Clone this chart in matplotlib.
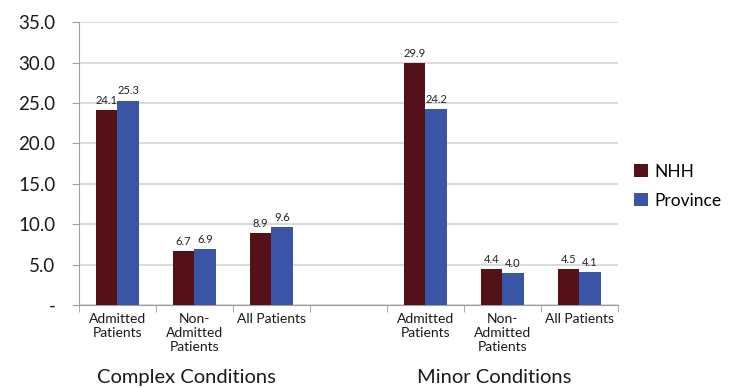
import matplotlib.pyplot as plt
import numpy as np

plt.rcParams['font.family'] = ['Lato', 'DejaVu Sans']

categories = ['Admitted\nPatients', 'Non-\nAdmitted\nPatients', 'All Patients', '',
              'Admitted\nPatients', 'Non-\nAdmitted\nPatients', 'All Patients']
nhh = [24.1, 6.7, 8.9, None, 29.9, 4.4, 4.5]
province = [25.3, 6.9, 9.6, None, 24.2, 4.0, 4.1]
groups = ['Complex Conditions', 'Minor Conditions']
group_pos = [1, 5]
yticks = [0, 5, 10, 15, 20, 25, 30, 35]
ylabels = ['-', '5.0', '10.0', '15.0', '20.0', '25.0', '30.0', '35.0']

c_nhh = '#541117'
c_prov = '#3a55a5'

fig = plt.figure(figsize=(7.38, 3.88), dpi=100)
ax = fig.add_axes([0.107, 0.214, 0.73, 0.729])

w = 0.28
for i, (a, b) in enumerate(zip(nhh, province)):
    if a is None:
        continue
    ax.bar(i - w / 2, a, w, color=c_nhh, label='NHH' if i == 0 else None, zorder=3)
    ax.bar(i + w / 2, b, w, color=c_prov, label='Province' if i == 0 else None, zorder=3)
    ax.text(i - w / 2, a + 0.5, f'{a:.1f}', ha='center', va='bottom', fontsize=8, color='#222222')
    ax.text(i + w / 2, b + 0.5, f'{b:.1f}', ha='center', va='bottom', fontsize=8, color='#222222')

ax.set_xlim(-0.5, 6.5)
ax.set_ylim(0, 35)
ax.set_yticks(yticks)
ax.set_yticklabels(ylabels, fontsize=13.5, color='#1a1a1a')
ax.set_xticks(range(len(categories)))
ax.set_xticklabels(categories, fontsize=10, linespacing=1.2, color='#1a1a1a')
ax.tick_params(axis='x', length=0, pad=6)
ax.set_xticks(np.arange(-0.5, 7, 1), minor=True)
ax.tick_params(axis='x', which='minor', length=5, color='#a0a0a0', direction='out')
ax.tick_params(axis='y', length=5, color='#a0a0a0', pad=12)

ax.grid(axis='y', color='#d4d4d4', linewidth=1.2, zorder=0)
for s in ['top', 'right']:
    ax.spines[s].set_visible(False)
for s in ['left', 'bottom']:
    ax.spines[s].set_color('#a0a0a0')

for g, p in zip(groups, group_pos):
    ax.text(p - 0.1, -0.287, g, transform=ax.get_xaxis_transform(), ha='center', va='bottom',
            fontsize=14.5, color='#1a1a1a')

fig.legend(loc='center left', bbox_to_anchor=(0.85, 0.52), frameon=False,
           fontsize=12.5, handlelength=0.8, handleheight=0.8, handletextpad=0.35, labelspacing=0.75,
           borderaxespad=0)

fig.savefig('out.png', dpi=100)
